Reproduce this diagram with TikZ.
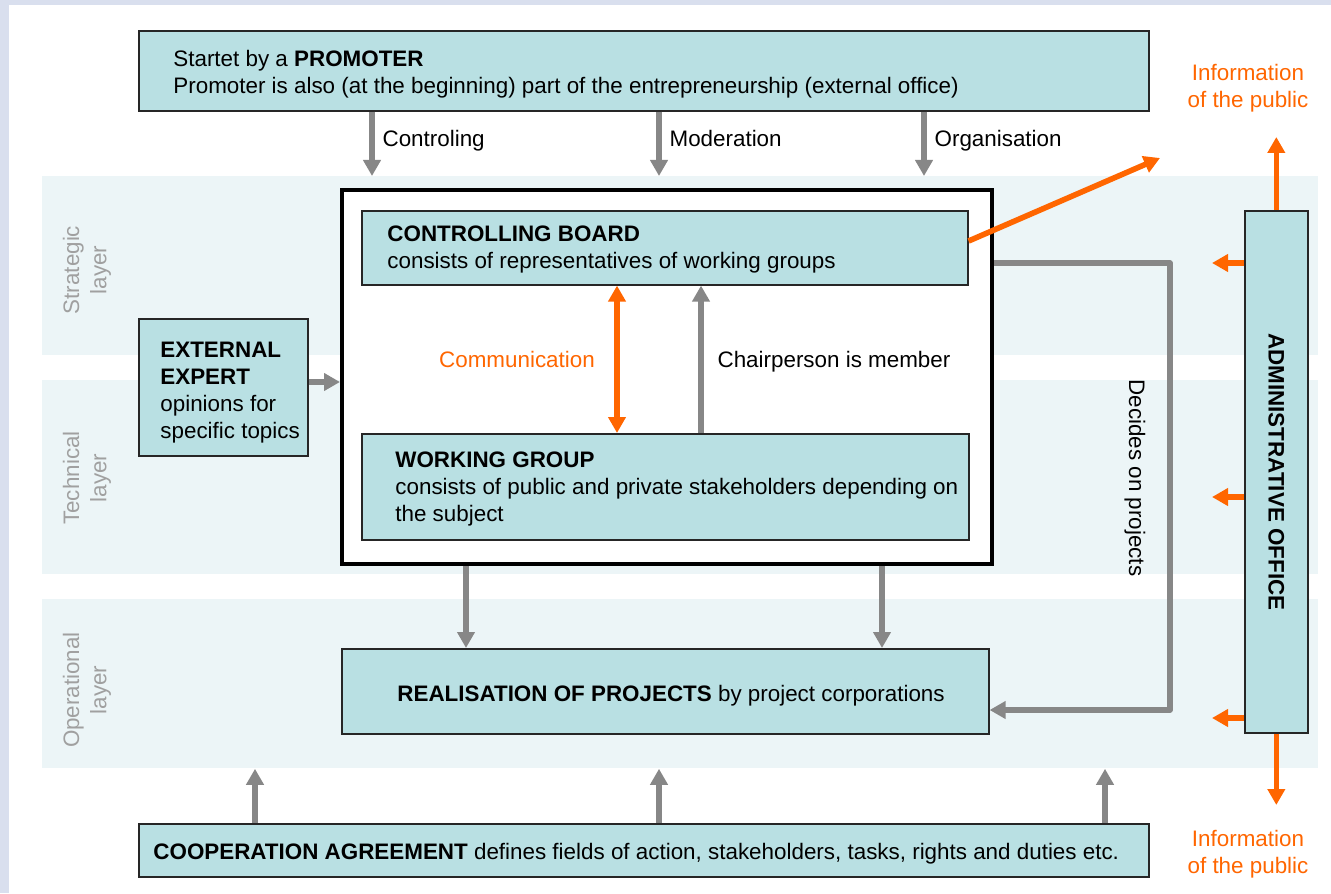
\documentclass[tikz,border=0pt]{standalone}
\usepackage{fontspec}
\setmainfont{Liberation Sans}
\usetikzlibrary{positioning,arrows.meta}
\definecolor{boxfill}{HTML}{B9E0E3}
\definecolor{layerfill}{HTML}{ECF5F7}
\definecolor{pagerim}{HTML}{D9DFEE}
\definecolor{arrowgray}{HTML}{878787}
\definecolor{infoorange}{HTML}{FF6600}
\definecolor{layertext}{HTML}{A0A0A0}
\begin{document}
\begin{tikzpicture}[x=0.5pt, y=-0.5pt, font=\fontsize{11.2}{13.6}\selectfont,
    >={Triangle[width=8.5pt,length=8pt]},
    block/.style={draw=black!85, line width=0.8pt, fill=boxfill, anchor=north west, inner sep=0pt},
    layer/.style={fill=layerfill, anchor=north west, inner sep=0pt, minimum width=638pt},
    layername/.style={text=layertext, align=center, inner sep=0pt, rotate=90},
    txt/.style={inner sep=0pt, align=left},
    arrowlabel/.style={txt, text height=8pt, text depth=2.5pt},
    info/.style={txt, text=infoorange, align=center},
    garrow/.style={draw=arrowgray, line width=2.6pt, ->},
    oarrow/.style={draw=infoorange, line width=2.8pt, ->}]
    \useasboundingbox (0,0) rectangle (1331,893);
    \fill[pagerim] (0,0) rectangle (1331,893);
    \fill[white] (9,5) rectangle (1331,893);

    \node[layer, minimum height=89.5pt] (strategic)   at (42,176) {};
    \node[layer, minimum height=97pt]   (technical)   at (42,380) {};
    \node[layer, minimum height=84.5pt] (operational) at (42,599) {};
    \node[layername] (strategicname)   at (87,270) {Strategic\\layer};
    \node[layername] (technicalname)   at (87,478) {Technical\\layer};
    \node[layername] (operationalname) at (87,690) {Operational\\layer};

    \node[block, minimum width=505pt, minimum height=40pt] (promoter) at (138,30) {};
    \node[txt, right=17.5pt of promoter.west, yshift=-1.75pt] (promotertext) {Startet by a \textbf{PROMOTER}\\Promoter is also (at the beginning) part of the entrepreneurship (external office)};
    \foreach \x/\lab/\nm in {372/Controling/controling, 659/Moderation/moderation, 924/Organisation/organisation}
        \draw[garrow] (promoter.south -| \x,0) -- (strategic.north -| \x,0) node[arrowlabel, midway, right=4pt, yshift=1.5pt] (\nm) {\lab};

    \node[draw, line width=2pt, fill=white, anchor=north west, inner sep=0pt, minimum width=325pt, minimum height=187pt] (frame) at (340,188) {};
    \node[block, minimum width=303pt, minimum height=37pt] (board) at (361,210) {};
    \node[txt, right=13pt of board.west, yshift=-1pt] (boardtext) {\textbf{CONTROLLING BOARD}\\consists of representatives of working groups};
    \node[block, minimum width=303.5pt, minimum height=53pt] (wg) at (361,433) {};
    \node[txt, right=17pt of wg.west, yshift=-1pt] (wgtext) {\textbf{WORKING GROUP}\\consists of public and private stakeholders depending on\\the subject};

    \draw[oarrow, <->] (board.south -| 617,0) -- (wg.north -| 617,0);
    \node[txt, text=infoorange] (communication) at (517,359) {Communication};
    \draw[garrow] (wg.north -| 701,0) -- (board.south -| 701,0) node[txt, midway, right=7pt, yshift=-1pt] (chairperson) {Chairperson is member};

    \node[block, minimum width=84.5pt, minimum height=68.5pt] (expert) at (138,318) {};
    \node[txt, right=11pt of expert.west, yshift=-2.75pt] (experttext) {\textbf{EXTERNAL}\\\textbf{EXPERT}\\opinions for\\specific topics};
    \draw[garrow] (expert.east |- 0,382) -- (frame.west |- 0,382);

    \node[block, minimum width=323.5pt, minimum height=42.5pt] (realisation) at (341,648) {};
    \node[txt, right=28pt of realisation.west, yshift=-2pt] (realisationtext) {\textbf{REALISATION OF PROJECTS} by project corporations};
    \foreach \x in {466,882}
        \draw[garrow] (frame.south -| \x,0) -- (realisation.north -| \x,0);
    \draw[garrow, line join=round] (frame.east |- 0,263) -- (1170,263) -- (1170,710) -- (realisation.east |- 0,710);
    \node[txt, rotate=-90] (decides) at (1135,478) {Decides on projects};

    \node[block, minimum width=31.5pt, minimum height=261pt] (admin) at (1244,210) {};
    \node[txt, rotate=-90] (admintext) at (admin.center) {\textbf{ADMINISTRATIVE OFFICE}};
    \node[info] (infotop)    at (1248,88.5)  {Information\\of the public};
    \node[info] (infobottom) at (1248,854.5) {Information\\of the public};
    \coordinate (infotopend)    at (1275,137);
    \coordinate (infobottomend) at (1275,805);
    \draw[oarrow] (admin.north) -- (admin.north |- infotopend);
    \draw[oarrow] (admin.south) -- (admin.south |- infobottomend);
    \foreach \y in {263,497,718}
        \draw[oarrow] (admin.west |- 0,\y) -- (1212,\y);
    \coordinate (publicend) at (1160,158);
    \draw[oarrow] (board.east |- 0,241) -- (publicend);

    \node[block, minimum width=505pt, minimum height=26.5pt] (coop) at (138,823) {};
    \node[txt, right=7.5pt of coop.west, yshift=-1.5pt] (cooptext) {\textbf{COOPERATION AGREEMENT} defines fields of action, stakeholders, tasks, rights and duties etc.};
    \foreach \x in {255,659,1105}
        \draw[garrow] (coop.north -| \x,0) -- (operational.south -| \x,0);
\end{tikzpicture}
\end{document}
